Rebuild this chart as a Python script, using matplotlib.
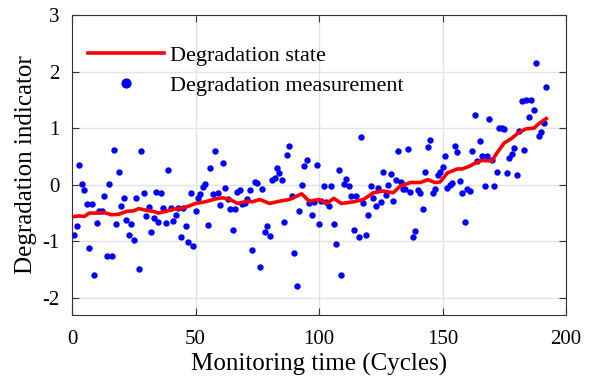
import matplotlib
matplotlib.use("Agg")
from matplotlib import pyplot as plt
import numpy as np

plt.rcParams['font.family'] = ['Liberation Serif', 'DejaVu Serif']
plt.rcParams['axes.unicode_minus'] = False

# measured degradation indicator, one per cycle (1..192)
meas = [
    -0.88, -0.72, 0.35, 0.02, -0.10, -0.34, -1.12, -0.34, -1.60, -0.68,
    -0.47, -0.47, -0.19, -1.25, 0.02, -1.25, 0.61, -0.70, 0.22, -0.38,
    -0.24, -0.63, -0.89, -0.69, -0.97, -0.24, -1.49, 0.59, -0.14, -0.56,
    -0.39, -0.83, -0.59, -0.12, -0.65, -0.15, -0.41, -0.68, 0.27, -0.41,
    -0.64, -0.54, -0.41, -0.92, -0.41, -0.72, -1.01, -0.15, -1.09, -0.47,
    -0.24, -0.16, -0.04, 0.02, -0.71, 0.30, -0.17, 0.59, -0.14, -0.35,
    0.38, -0.05, -0.25, -0.43, -0.80, -0.43, -0.12, -0.10, -0.34, -0.32,
    -0.25, -0.09, -1.15, 0.05, 0.04, -1.45, -0.07, -0.83, -0.72, -0.91,
    0.09, 0.12, 0.29, 0.21, 0.09, -0.65, 0.52, 0.68, -0.19, -1.20,
    -1.78, -0.47, 0.00, 0.33, 0.43, -0.33, -0.54, -0.30, 0.35, -0.69,
    -0.28, -0.03, -0.30, -0.37, -0.03, -0.70, -1.04, 0.27, -1.60, 0.02,
    0.11, -0.02, -0.19, -0.80, -0.20, -0.92, 0.84, -0.32, -0.89, -0.53,
    -0.02, -0.24, -0.37, -0.05, -0.30, 0.22, -0.18, -0.01, 0.19, -0.29,
    0.09, 0.60, 0.05, -0.07, -0.07, 0.64, -0.12, -0.93, -0.81, -0.09,
    -0.14, -0.42, 0.23, 0.67, 0.80, -0.14, -0.08, 0.17, 0.23, 0.31,
    0.51, -0.05, -0.01, 0.04, 0.68, 0.58, 0.06, -0.14, -0.65, -0.07,
    -0.11, 0.60, 1.24, 0.42, 0.78, 0.50, -0.02, 0.50, 1.17, 0.43,
    -0.02, 0.22, 1.01, 1.01, 0.98, 0.20, 0.47, 0.54, 0.65, 0.18,
    0.95, 1.48, 0.61, 1.49, 1.20, 1.50, 1.32, 2.16, 0.86, 0.94,
    1.09, 1.72,
]
meas_cycles = np.arange(1, len(meas) + 1)

# degradation state (red line)
state_cycles = [1, 3, 5, 7, 10, 13, 16, 19, 22, 25, 27, 30, 33, 35, 38, 41, 44,
                47, 50, 54, 58, 61, 64, 67, 71, 73, 76, 80, 84, 88, 91, 93, 96,
                100, 103, 106, 109, 114, 118, 122, 126, 130, 133, 137, 141, 144,
                147, 149, 152, 156, 158, 161, 164, 166, 170, 172, 175, 178, 181,
                184, 187, 189, 192]
state = [-0.56, -0.55, -0.56, -0.50, -0.50, -0.49, -0.53, -0.52, -0.47, -0.46,
         -0.42, -0.45, -0.47, -0.50, -0.47, -0.43, -0.42, -0.38, -0.33, -0.30,
         -0.25, -0.23, -0.26, -0.33, -0.29, -0.30, -0.26, -0.33, -0.29, -0.26,
         -0.20, -0.16, -0.29, -0.26, -0.33, -0.24, -0.33, -0.30, -0.26, -0.14,
         -0.11, -0.14, -0.02, 0.04, 0.04, 0.09, 0.04, 0.05, 0.21, 0.28, 0.28,
         0.33, 0.40, 0.43, 0.42, 0.56, 0.74, 0.82, 0.93, 0.99, 1.00, 1.08, 1.17]

fig = plt.figure(figsize=(5.97, 3.79), dpi=100)
ax = fig.add_axes([0.1206, 0.169, 0.8275, 0.7914])

ax.plot(state_cycles, state, color='red', lw=2.6, label='Degradation state', zorder=3)
ax.plot(meas_cycles, meas, 'o', color='blue', ms=4.6, mec='none',
        label='Degradation measurement', zorder=2)

ax.set_xlim(0, 200)
ax.set_ylim(-2.3, 3)
ax.set_xticks([0, 50, 100, 150, 200])
ax.set_yticks([-2, -1, 0, 1, 2, 3])
ax.grid(True, color='#e3e3e3', lw=1)
ax.set_axisbelow(True)
ax.tick_params(direction='in', top=True, right=True, labelsize=15, length=5,
               color='#333333')
ax.tick_params(axis='x', pad=11)
ax.tick_params(axis='y', pad=9)
for s in ax.spines.values():
    s.set_color('#333333')

ax.set_xlabel('Monitoring time (Cycles)', fontsize=18, labelpad=3)
ax.set_ylabel('Degradation indicator', fontsize=18, labelpad=4)

ax.legend(loc='upper left', bbox_to_anchor=(-0.008, 0.965), frameon=False,
          fontsize=16, handlelength=3.4, handletextpad=0.3, markerscale=1.6,
          labelspacing=0.42)

fig.savefig('out.png', dpi=100)
